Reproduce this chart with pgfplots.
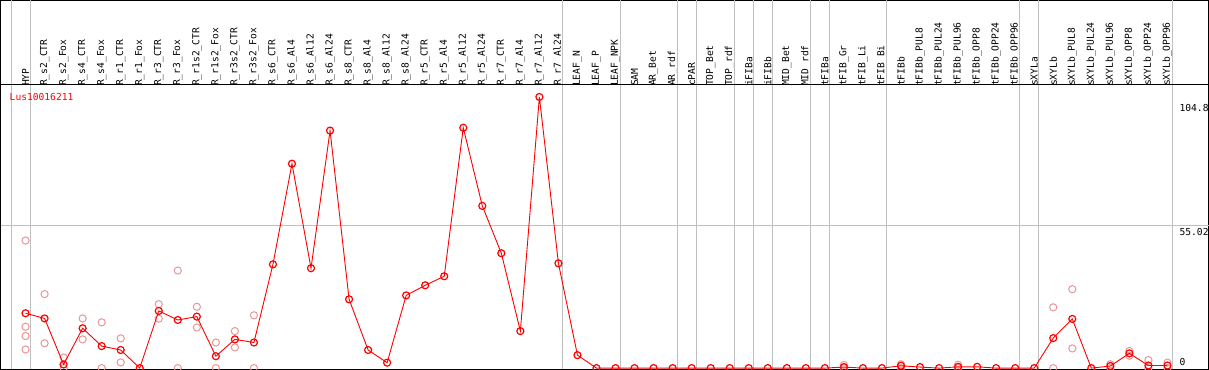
\documentclass[border=0pt]{standalone}
\usepackage{pgfplots}
\pgfplotsset{compat=1.18}
\usepackage{fontspec}
\setmonofont{DejaVu Sans Mono}
\definecolor{meanred}{RGB}{255,0,0}
\definecolor{reppink}{RGB}{232,150,150}
\definecolor{gridgray}{RGB}{192,192,192}
\newcommand{\lblfont}{\ttfamily\fontsize{9.6}{10}\selectfont}
\begin{document}
\begin{tikzpicture}
\begin{axis}[
  scale only axis, width=1206pt, height=368pt,
  xmin=-0.3158, xmax=63.158, ymin=-0.387, ymax=142.08,
  axis line style={black, line width=1pt},
  xtick={1,...,61},
  xticklabels={HYP,R\_s2\_CTR,R\_s2\_Fox,R\_s4\_CTR,R\_s4\_Fox,R\_r1\_CTR,R\_r1\_Fox,R\_r3\_CTR,R\_r3\_Fox,R\_r1s2\_CTR,R\_r1s2\_Fox,R\_r3s2\_CTR,R\_r3s2\_Fox,R\_s6\_CTR,R\_s6\_Al4,R\_s6\_Al12,R\_s6\_Al24,R\_s8\_CTR,R\_s8\_Al4,R\_s8\_Al12,R\_s8\_Al24,R\_r5\_CTR,R\_r5\_Al4,R\_r5\_Al12,R\_r5\_Al24,R\_r7\_CTR,R\_r7\_Al4,R\_r7\_Al12,R\_r7\_Al24,LEAF\_N,LEAF\_P,LEAF\_NPK,SAM,AR\_Bet,AR\_rdf,cPAR,TOP\_Bet,TOP\_rdf,iFIBa,iFIBb,MID\_Bet,MID\_rdf,tFIBa,tFIB\_Gr,tFIB\_Li,tFIB\_Bi,tFIBb,tFIBb\_PUL8,tFIBb\_PUL24,tFIBb\_PUL96,tFIBb\_OPP8,tFIBb\_OPP24,tFIBb\_OPP96,sXYLa,sXYLb,sXYLb\_PUL8,sXYLb\_PUL24,sXYLb\_PUL96,sXYLb\_OPP8,sXYLb\_OPP24,sXYLb\_OPP96},
  xticklabel pos=right,
  xticklabel shift=-85.5pt,
  xticklabel style={rotate=90, anchor=west, font=\lblfont, inner sep=0pt},
  major tick length=0pt,
  ytick=\empty,
  extra x ticks={0.24,1.24,29.24,32.24,35.24,36.24,38.24,39.24,40.24,42.24,43.24,46.24,53.24,54.24,61.24},
  extra x tick labels={},
  extra x tick style={grid=major, major grid style={gridgray, line width=1pt}},
  extra y ticks={55.02},
  extra y tick labels={},
  extra y tick style={grid=major, major grid style={gridgray, line width=1pt}},
  clip marker paths=true,
]
\draw[black, line width=1pt] (axis cs:-0.3158,109.56) -- (axis cs:63.158,109.56);
% replicates
\addplot[only marks, reppink, mark=o, mark size=3.6pt, mark options={line width=1pt}] coordinates {
(1,49.3) (1,16.0) (1,12.4) (1,7.2)
(2,28.6) (2,9.6)
(3,4.1) (3,0)
(4,19.2) (4,11.1)
(5,17.7) (5,0)
(6,11.5) (6,2.2)
(8,24.7) (8,19.1)
(9,37.7) (9,0)
(10,23.7) (10,15.7)
(11,9.9) (11,0)
(12,14.3) (12,8.0)
(13,20.4) (13,0)
(44,1.2) (44,0)
(47,1.5) (47,0)
(50,1.3) (50,0)
(55,23.5) (55,0)
(56,30.5) (56,7.6)
(58,1.5) (58,0)
(59,4.8) (59,6.6)
(60,3.1) (60,0)
(61,2.1) (61,0)
};
% means
\addplot[meanred, line width=0.9pt, mark=o, mark size=3.5pt, mark options={line width=1.2pt}] coordinates {
(1,21.2) (2,19.2) (3,1.4) (4,15.4) (5,8.5) (6,7.0) (7,0) (8,22.1) (9,18.6) (10,19.9)
(11,4.6) (12,11.1) (13,9.9) (14,40.1) (15,79.0) (16,38.6) (17,91.8) (18,26.6) (19,7.0) (20,2.1)
(21,28.1) (22,32.0) (23,35.5) (24,92.9) (25,62.7) (26,44.4) (27,14.3) (28,104.8) (29,40.5) (30,5.0)
(31,0) (32,0) (33,0) (34,0) (35,0) (36,0) (37,0) (38,0) (39,0) (40,0)
(41,0) (42,0) (43,0) (44,0.4) (45,0) (46,0) (47,0.9) (48,0.4) (49,0) (50,0.5)
(51,0.5) (52,0) (53,0) (54,0) (55,11.6) (56,19.0) (57,0) (58,0.8) (59,5.7) (60,1.0)
(61,1.0)
};
\node[anchor=west, inner sep=0pt, font=\lblfont, text=meanred] at (axis cs:0.158,104.9) {Lus10016211};
\node[anchor=west, inner sep=0pt, font=\lblfont] at (axis cs:61.63,100.7) {104.8};
\node[anchor=west, inner sep=0pt, font=\lblfont] at (axis cs:61.63,52.7) {55.02};
\node[anchor=west, inner sep=0pt, font=\lblfont] at (axis cs:61.63,2.3) {0};
\end{axis}
\pgfresetboundingbox
\path ([xshift=-0.5pt,yshift=-0.5pt]current axis.south west) rectangle ([xshift=0.5pt,yshift=0.5pt]current axis.north east);
\end{tikzpicture}
\end{document}
